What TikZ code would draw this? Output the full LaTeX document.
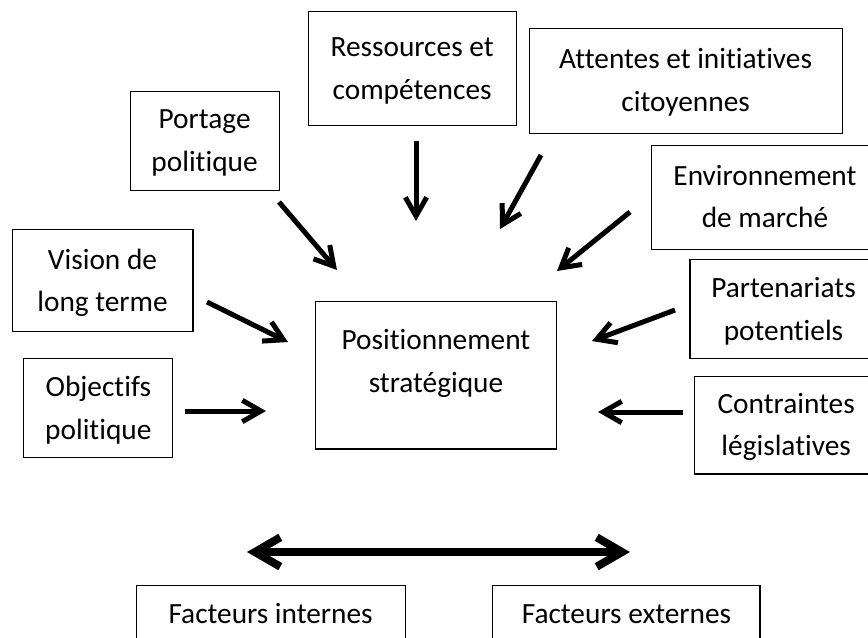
\documentclass[tikz,border=0pt]{standalone}
\usepackage{fontspec}
\setmainfont[Ligatures=NoCommon]{Carlito}
\usepackage{tikz}
\usetikzlibrary{positioning,arrows.meta}
\tikzstyle{block} = [rectangle, draw, line width=0.8pt, inner sep=0pt, align=center, text height=46.2pt, text depth=0pt, font=\fontsize{22}{32}\selectfont]
\tikzstyle{flat} = [block, text height=14.2pt]
\tikzstyle{line} = [draw, line width=3.75pt, -{Straight Barb[length=14pt, width=16pt]}]
\tikzstyle{wide} = [draw, line width=6pt, {Straight Barb[length=19pt, width=22pt]}-{Straight Barb[length=19pt, width=22pt]}]

\begin{document}
\begin{tikzpicture}
  %% frame
  \useasboundingbox (-11.493,-6.906) rectangle (11.387,9.885);
  \clip (-11.493,-6.906) rectangle (11.387,9.885);
  %% Positionnement
  \node[block, minimum width=6.33cm, minimum height=3.9cm, text depth=20pt] (pos) {Positionnement\\stratégique};
  %% Ressources
  \node[block, above of=pos, node distance=8.07cm, xshift=-0.63cm, minimum width=5.48cm, minimum height=3cm] (res) {Ressources et\\compétences};
  %% Attentes
  \node[block, above of=pos, node distance=7.76cm, xshift=6.58cm, minimum width=8.25cm, minimum height=2.77cm] (att) {Attentes et initiatives\\citoyennes};
  %% Portage
  \node[block, above of=pos, node distance=6.18cm, xshift=-6.1cm, minimum width=3.93cm, minimum height=2.61cm] (por) {Portage\\politique};
  %% Environnement
  \node[block, right of=pos, node distance=8.67cm, yshift=4.69cm, minimum width=5.96cm, minimum height=2.74cm] (env) {Environnement\\de marché};
  %% Vision
  \node[block, left of=pos, node distance=8.79cm, yshift=2.48cm, minimum width=4.77cm, minimum height=2.69cm] (vis) {Vision de\\long terme};
  %% Partenariats
  \node[block, right of=pos, node distance=9.16cm, yshift=1.73cm, minimum width=4.93cm, minimum height=2.61cm] (par) {Partenariats\\potentiels};
  %% Objectifs
  \node[block, left of=pos, node distance=8.9cm, yshift=-0.88cm, minimum width=3.93cm, minimum height=2.61cm] (obj) {Objectifs\\politique};
  %% Contraintes
  \node[block, right of=pos, node distance=9.23cm, yshift=-1.32cm, minimum width=4.85cm, minimum height=2.58cm] (con) {Contraintes\\législatives};
  %% Facteurs
  \node[flat, below of=pos, node distance=6.29cm, xshift=-4.36cm, minimum width=7.09cm, minimum height=1.5cm] (fi) {Facteurs internes};
  \node[flat, right of=fi, node distance=9.38cm, minimum width=7.04cm, minimum height=1.5cm] (fe) {Facteurs externes};
  %% arrow ends
  \coordinate (res-a) at (-0.527,6.168);
  \coordinate (res-b) at (-0.527,4.059);
  \coordinate (att-a) at (2.768,5.799);
  \coordinate (att-b) at (1.687,3.848);
  \coordinate (env-a) at (5.114,4.297);
  \coordinate (env-b) at (3.189,2.741);
  \coordinate (par-a) at (6.3,1.713);
  \coordinate (par-b) at (4.112,0.896);
  \coordinate (con-a) at (6.511,-0.975);
  \coordinate (con-b) at (4.27,-0.975);
  \coordinate (por-a) at (-4.138,4.56);
  \coordinate (por-b) at (-2.61,2.768);
  \coordinate (vis-a) at (-6.036,1.924);
  \coordinate (vis-b) at (-3.901,0.87);
  \coordinate (obj-a) at (-6.616,-0.949);
  \coordinate (obj-b) at (-4.481,-0.949);
  \coordinate (fi-a) at (-4.982,-4.666);
  \coordinate (fe-a) at (5.114,-4.666);
  %% edges
  \path[line] (res-a) -- (res-b);
  \path[line] (att-a) -- (att-b);
  \path[line] (env-a) -- (env-b);
  \path[line] (par-a) -- (par-b);
  \path[line] (con-a) -- (con-b);
  \path[line] (por-a) -- (por-b);
  \path[line] (vis-a) -- (vis-b);
  \path[line] (obj-a) -- (obj-b);
  \path[wide] (fi-a) -- (fe-a);
\end{tikzpicture}
\end{document}
